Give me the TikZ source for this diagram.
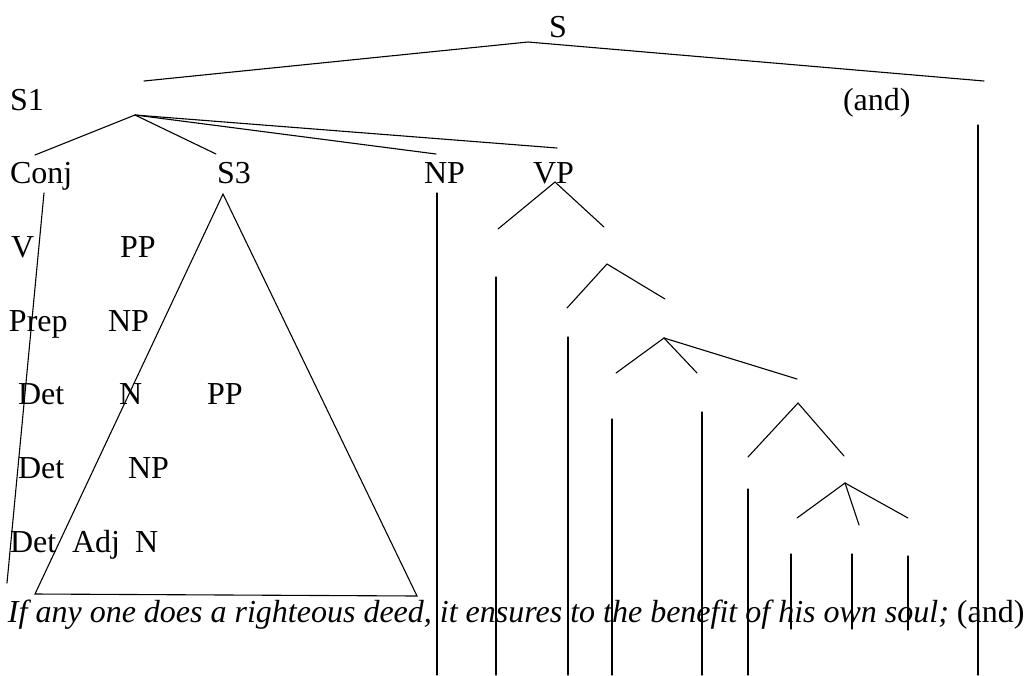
\documentclass[tikz,border=0pt]{standalone}
\usepackage{fontspec}
\setmainfont{Liberation Serif}
\begin{document}
\begin{tikzpicture}[x=1pt,y=-1pt,
  lbl/.style={anchor=base west,inner sep=0pt,outer sep=0pt,font=\fontsize{32}{38}\selectfont},
  br/.style={line width=1.1pt,line cap=round}]
\useasboundingbox (0,0) rectangle (1030,675);
\fill[white] (0,0) rectangle (1030,675);
% labels
\node[lbl] (s) at (549,37) {S};
\node[lbl] (s1) at (10,110) {S1};
\node[lbl] (and1) at (843,110) {(and)};
\node[lbl] (conj) at (10,183) {Conj};
\node[lbl] (s3) at (217,183) {S3};
\node[lbl] (np1) at (424,183) {NP};
\node[lbl] (vp) at (533,183) {VP};
\node[lbl] (v) at (11,257) {V};
\node[lbl] (pp1) at (120,257) {PP};
\node[lbl] (prep) at (9,331) {Prep};
\node[lbl] (np2) at (108,331) {NP};
\node[lbl] (det1) at (18,404) {Det};
\node[lbl] (n1) at (119,404) {N};
\node[lbl] (pp2) at (207,404) {PP};
\node[lbl] (det2) at (18,478) {Det};
\node[lbl] (np3) at (128,478) {NP};
\node[lbl] (det3) at (10,552) {Det};
\node[lbl] (adj) at (72,552) {Adj};
\node[lbl] (n2) at (135,552) {N};
\node[lbl] (sent) at (8,622) {\itshape If any one does a righteous deed, it ensures to the benefit of his own soul;\upshape{} (and)};
% tree points
\coordinate (sA) at (528,42);
\coordinate (sL) at (144,81);
\coordinate (sR) at (984,81);
\coordinate (s1A) at (135,115);
\coordinate (s1a) at (35,155);
\coordinate (s1b) at (216,154);
\coordinate (s1c) at (436,154);
\coordinate (s1d) at (557,148);
\coordinate (andT) at (978,125);
\coordinate (andB) at (978,675);
\coordinate (conjT) at (44,193);
\coordinate (conjB) at (7,583);
\coordinate (triA) at (223,194);
\coordinate (triL) at (35,594);
\coordinate (triR) at (417,596);
\coordinate (npT) at (437,193);
\coordinate (npB) at (437,675);
\coordinate (vpA) at (555,182);
\coordinate (vpL) at (498,229);
\coordinate (vpR) at (604,227);
\coordinate (v1T) at (496,277);
\coordinate (v1B) at (496,675);
\coordinate (t2A) at (607,264);
\coordinate (t2L) at (567,308);
\coordinate (t2R) at (665,299);
\coordinate (v2T) at (568,337);
\coordinate (v2B) at (568,675);
\coordinate (t3A) at (664,338);
\coordinate (t3L) at (616,373);
\coordinate (t3M) at (697,373);
\coordinate (t3R) at (797,379);
\coordinate (v3T) at (612,419);
\coordinate (v3B) at (612,675);
\coordinate (v4T) at (702,412);
\coordinate (v4B) at (702,675);
\coordinate (t4A) at (798,403);
\coordinate (t4L) at (748,457);
\coordinate (t4R) at (844,456);
\coordinate (v5T) at (748,489);
\coordinate (v5B) at (748,675);
\coordinate (t5A) at (845,483);
\coordinate (t5L) at (797,518);
\coordinate (t5M) at (859,525);
\coordinate (t5R) at (908,518);
\coordinate (w1T) at (791,554);
\coordinate (w1B) at (791,629);
\coordinate (w2T) at (852,554);
\coordinate (w2B) at (852,629);
\coordinate (w3T) at (908,556);
\coordinate (w3B) at (908,630);
% connectors
\draw[br] (sL) -- (sA) -- (sR);
\draw[br] (s1a) -- (s1A) -- (s1b);
\draw[br] (s1A) -- (s1c);
\draw[br] (s1A) -- (s1d);
\draw[br] (andT) -- (andB);
\draw[br] (conjT) -- (conjB);
\draw[br] (triA) -- (triL) -- (triR) -- cycle;
\draw[br] (npT) -- (npB);
\draw[br] (vpL) -- (vpA) -- (vpR);
\draw[br] (v1T) -- (v1B);
\draw[br] (t2L) -- (t2A) -- (t2R);
\draw[br] (v2T) -- (v2B);
\draw[br] (t3L) -- (t3A) -- (t3M);
\draw[br] (t3A) -- (t3R);
\draw[br] (v3T) -- (v3B);
\draw[br] (v4T) -- (v4B);
\draw[br] (t4L) -- (t4A) -- (t4R);
\draw[br] (v5T) -- (v5B);
\draw[br] (t5L) -- (t5A) -- (t5M);
\draw[br] (t5A) -- (t5R);
\draw[br] (w1T) -- (w1B);
\draw[br] (w2T) -- (w2B);
\draw[br] (w3T) -- (w3B);
\end{tikzpicture}
\end{document}
